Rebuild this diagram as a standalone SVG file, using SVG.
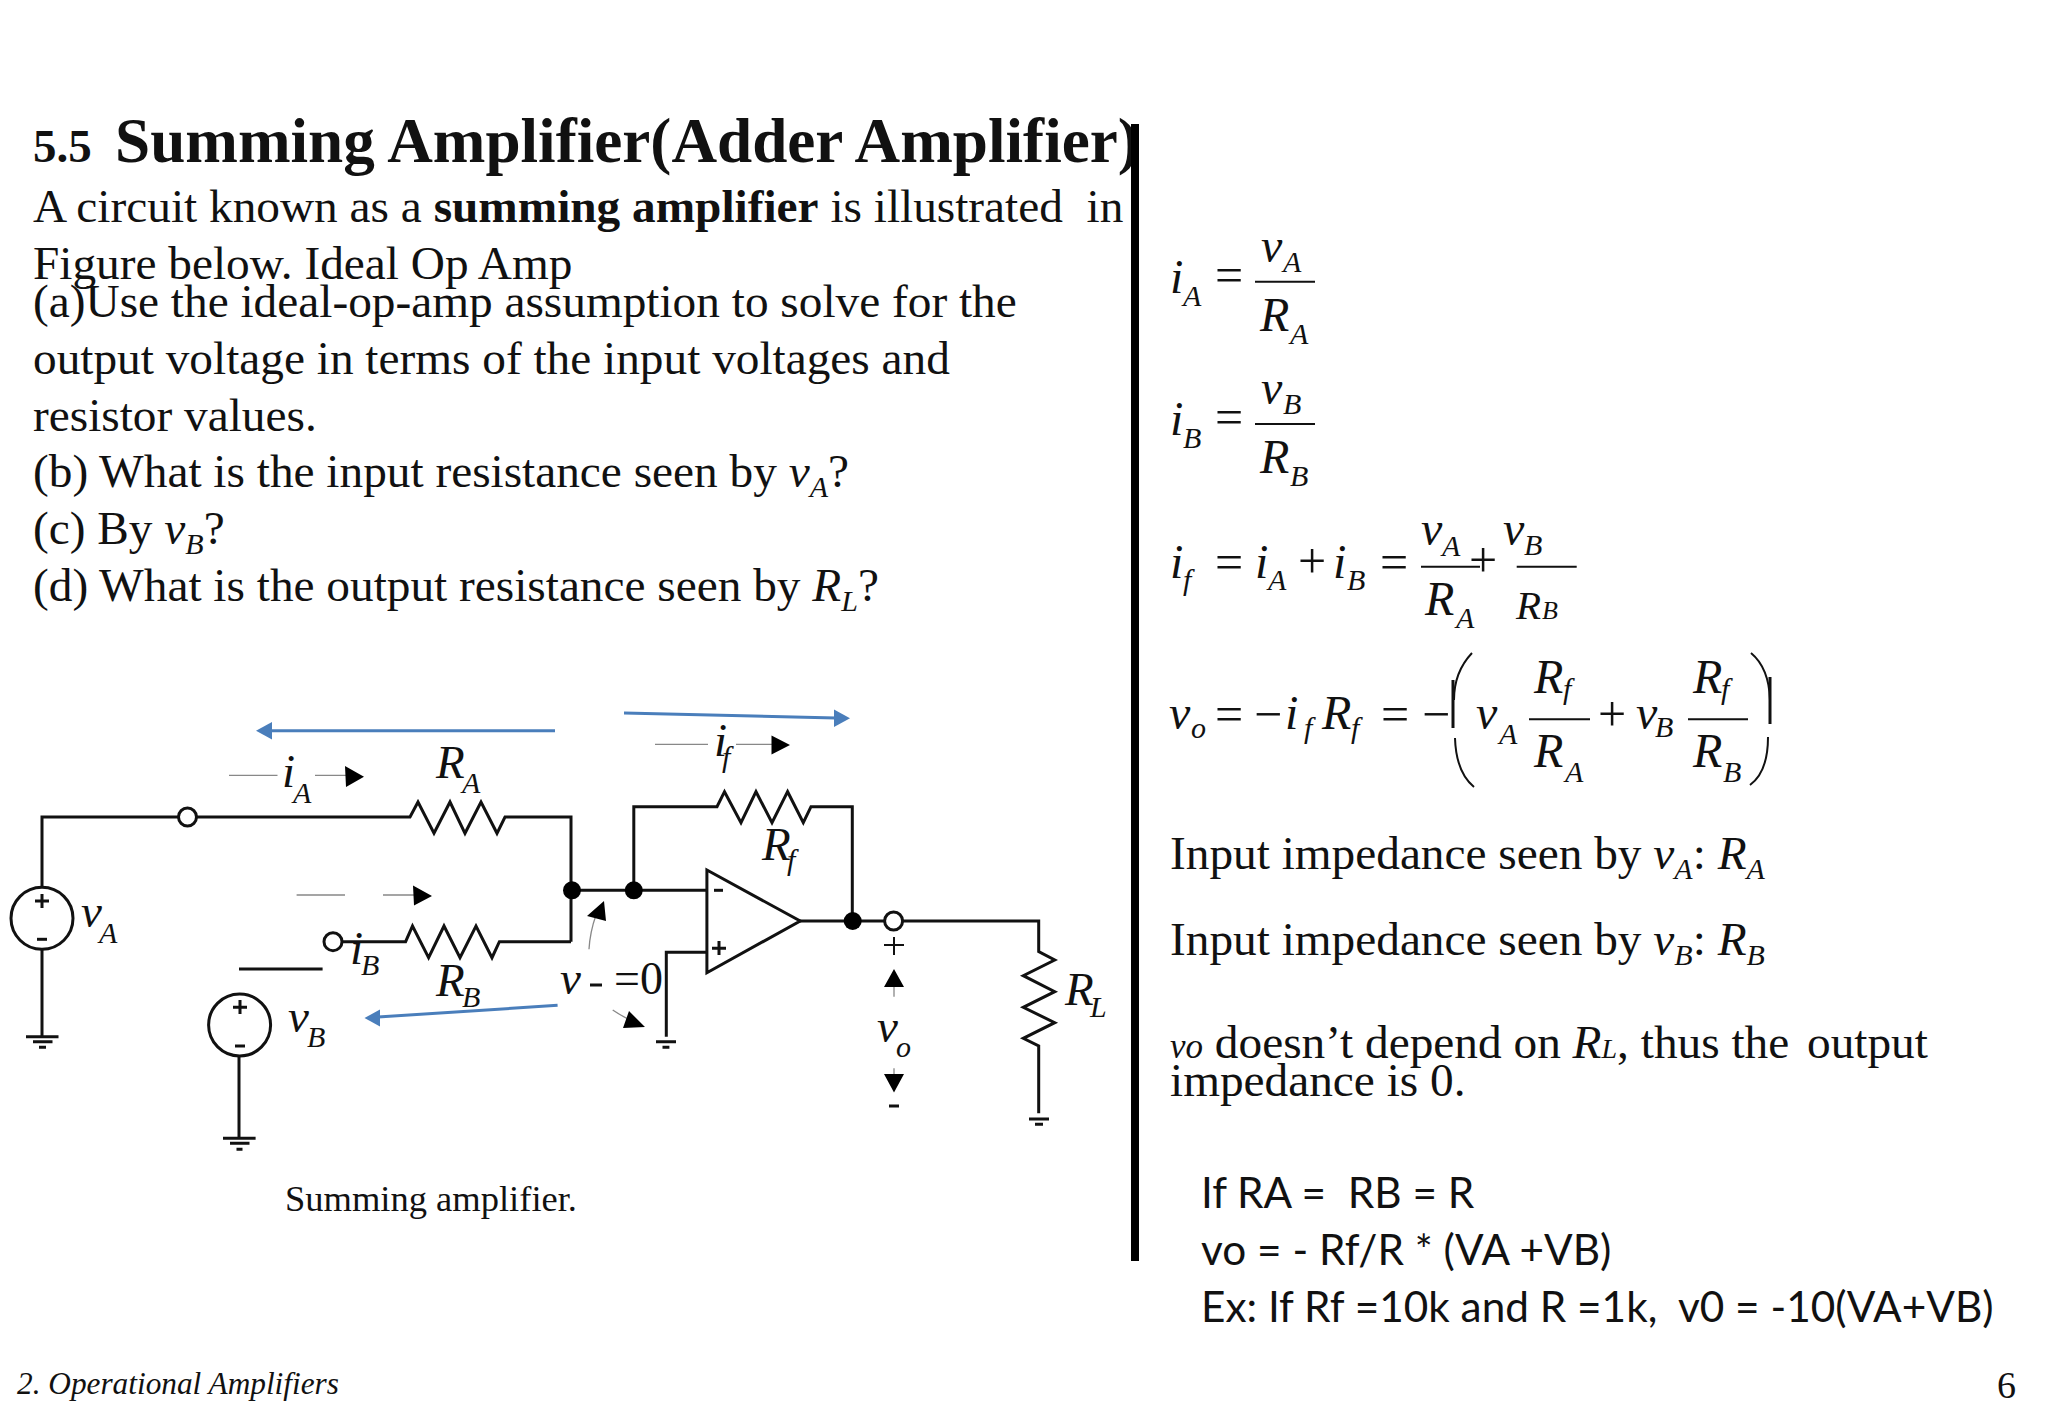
<svg xmlns="http://www.w3.org/2000/svg" width="2048" height="1416" viewBox="0 0 2048 1416">
<style>
text{font-family:"Liberation Serif","Times New Roman",serif;fill:#111;white-space:pre}
.b{font-size:47.3px}
.m{font-size:48px;font-style:italic}
.n{font-size:50px}
.s{font-size:30px;font-style:italic}
.c{font-size:47px;font-style:italic}
.cs{font-size:30px;font-style:italic}
.cal{font-family:Lato,"Open Sans",sans-serif;font-size:42.3px}
.w{fill:none;stroke:#111;stroke-width:3}
.g{fill:none;stroke:#888;stroke-width:1.3}
.f{fill:none;stroke:#111;stroke-width:2}
.blue{fill:none;stroke:#4a7ebb;stroke-width:3}
.bh{fill:#4a7ebb}
.ah{fill:#000}
.o{fill:#fff;stroke:#111;stroke-width:3}
.d{fill:#000}
.sub{font-style:italic;font-size:30px}
.it{font-style:italic}
</style>
<rect width="2048" height="1416" fill="#fff"/>
<g id="heading">
<text x="33" y="162" font-size="47" font-weight="bold">5.5</text>
<text x="115" y="162" font-size="63.2" font-weight="bold">Summing Amplifier(Adder Amplifier)</text>
</g>
<g id="problem-text">
<text class="b" x="33" y="222">A circuit known as a <tspan font-weight="bold">summing amplifier</tspan> is illustrated  in</text>
<text class="b" x="33" y="279">Figure below. Ideal Op Amp</text>
<text class="b" x="33" y="317">(a)Use the ideal-op-amp assumption to solve for the</text>
<text class="b" x="33" y="374">output voltage in terms of the input voltages and</text>
<text class="b" x="33" y="431">resistor values.</text>
<text class="b" x="33" y="487">(b) What is the input resistance seen by <tspan class="it">v</tspan><tspan class="sub" dy="10">A</tspan><tspan dy="-10">?</tspan></text>
<text class="b" x="33" y="544">(c) By <tspan class="it">v</tspan><tspan class="sub" dy="10">B</tspan><tspan dy="-10">?</tspan></text>
<text class="b" x="33" y="601">(d) What is the output resistance seen by <tspan class="it">R</tspan><tspan class="sub" dy="10">L</tspan><tspan dy="-10">?</tspan></text>
</g>
<rect id="divider" x="1131" y="124" width="8" height="1137" fill="#000"/>
<g id="connectors">
<path class="w" d="M42 887V817H178M197 817H410L418 802L434 833.300L450 802L465 833.300L481 802L497 833.300L505 817H571V941.700"/>
<path class="w" d="M342 941.700H405.600L412.500 926L428.600 957.700L444 926L460 957.700L476 926L492 957.700L499.400 941.700H571"/>
<path class="w" d="M572 890.300H707"/>
<path class="w" d="M633.800 890.300V806.700H717L724.500 791.700L741 822.700L756 791.700L772 822.700L787.600 791.700L803.300 822.700L811 806.700H852.300V921"/>
<path class="w" d="M800 921H884M903 921H1038.700V951.700L1054.700 960L1023.300 975.700L1054.700 991.700L1023.300 1007.300L1054.700 1022.700L1023.300 1038.300L1038.700 1046V1113.300"/>
<path class="w" d="M707 952.300H666.300V1036.700"/>
<path class="w" d="M42 949V1036.700"/>
<path class="w" d="M239 1056.700V1138.300"/>
<path class="w" d="M239 969H322.600"/>
</g>
<g id="source-va">
<circle class="o" cx="42" cy="918.300" r="31"/>
<path class="w" d="M35 901H49M42 894V908"/><path class="w" d="M37 939.300H47" stroke-width="4"/>
<path class="w" d="M26 1036.700H58.500M33 1041.700H52.500M39 1047.300H46"/>
<text class="c" x="81" y="927">v</text><text class="cs" x="99" y="943">A</text>
</g>
<g id="source-vb">
<circle class="o" cx="239.600" cy="1025" r="31"/>
<path class="w" d="M233 1007.300H247M240 1000V1014"/><path class="w" d="M235 1046H245" stroke-width="4"/>
<path class="w" d="M223 1138.300H255.600M230 1143.300H249.500M236.500 1149.300H242.500"/>
<text class="c" x="288" y="1032">v</text><text class="cs" x="307" y="1047">B</text>
</g>
<g id="terminals">
<circle class="o" cx="187.500" cy="817" r="9"/>
<circle class="o" cx="333" cy="941.700" r="9"/>
<circle class="o" cx="893.600" cy="921" r="9"/>
<circle class="d" cx="572" cy="890.300" r="9"/>
<circle class="d" cx="633.800" cy="890.300" r="9"/>
<circle class="d" cx="852.700" cy="921" r="9"/>
</g>
<g id="opamp">
<path class="w" fill="#fff" d="M706.900 870L800.200 921L706.900 972.700Z"/>
<path class="w" d="M714 890.300H723"/>
<path class="w" d="M712 948.300H726M719 941V955"/>
<path class="w" d="M656 1041.700H676M662.500 1047.300H669.400"/>
<path class="w" d="M1029 1119H1049M1035 1124.300H1043"/>
</g>
<g id="labels">
<text class="c" x="282" y="787">i</text><text class="cs" x="293" y="803">A</text>
<text class="c" x="436" y="778">R</text><text class="cs" x="462" y="793">A</text>
<text class="c" x="350" y="964">i</text><text class="cs" x="361" y="975">B</text>
<text class="c" x="436" y="996">R</text><text class="cs" x="462" y="1007">B</text>
<text class="c" x="714" y="756">i</text><text class="cs" x="722" y="767">f</text>
<text class="c" x="762" y="860">R</text><text class="cs" x="787" y="870">f</text>
<text class="c" x="1065" y="1005">R</text><text class="cs" x="1090" y="1017">L</text>
<text class="c" x="560" y="994">v</text>
<path class="w" d="M590 985H602" stroke-width="4"/>
<text font-size="46" x="614" y="994">=0</text>
<text class="c" x="877" y="1042">v</text><text class="cs" x="896" y="1057">o</text>
<path class="f" d="M884 945H904M894 937V955"/>
<path class="w" d="M889 1106H899"/>
<text font-size="36.500" x="285" y="1211">Summing amplifier.</text>
</g>
<g id="current-arrows">
<path class="g" d="M229 775.300H277.500M315 775.300H346M296.600 895H345M383 895H415M655 744.300H708M736 744.300H772M894 986V996.700M894 1068.300V1075M589 949.300Q590 932 596 915M612.700 1010Q620 1015 630 1020"/>
<path class="ah" d="M345 766L364 776.700L346 787ZM413 885.500L432 896L414 905.500ZM771.500 735.500L790 745L771.500 754.500ZM894 969L904 987H884ZM884 1074H904L894 1092.500ZM604 901L606 921L587 916ZM645 1027L623 1028L629 1011Z"/>
<path class="blue" d="M555 730.700H270"/><path class="bh" d="M256 730.700L272 722V739.400Z"/>
<path class="blue" d="M557.600 1005.300L378 1017"/><path class="bh" d="M364.500 1018L380 1009.500V1026.500Z"/>
<path class="blue" d="M624 713L836 718"/><path class="bh" d="M850 718.300L834 709.500V727Z"/>
</g>
<g id="equations">
<text class="m" x="1170" y="293">i</text><text class="s" x="1183" y="306">A</text><text class="n" x="1215" y="292">=</text>
<path class="f" d="M1255 281.700H1315"/>
<text class="m" x="1261" y="262">v</text><text class="s" x="1283" y="272">A</text>
<text class="m" x="1260" y="331">R</text><text class="s" x="1290" y="344">A</text>
<text class="m" x="1170" y="435">i</text><text class="s" x="1183" y="448">B</text><text class="n" x="1215" y="434">=</text>
<path class="f" d="M1255 424H1315"/>
<text class="m" x="1261" y="404">v</text><text class="s" x="1283" y="414">B</text>
<text class="m" x="1260" y="473">R</text><text class="s" x="1290" y="486">B</text>
<text class="m" x="1170" y="578">i</text><text class="s" x="1183" y="590">f</text><text class="n" x="1215" y="579">=</text>
<text class="m" x="1255" y="578">i</text><text class="s" x="1268" y="590">A</text>
<text class="n" x="1298" y="578">+</text>
<text class="m" x="1333" y="578">i</text><text class="s" x="1347" y="590">B</text><text class="n" x="1380" y="579">=</text>
<path class="f" d="M1421 566.700H1480M1516.700 566.700H1576.700"/>
<text class="m" x="1421" y="545">v</text><text class="s" x="1442" y="556">A</text>
<text class="m" x="1425" y="615">R</text><text class="s" x="1456" y="628">A</text>
<text class="n" x="1469" y="577">+</text>
<text class="m" x="1503" y="545">v</text><text class="s" x="1524" y="555">B</text>
<text class="m" x="1516" y="619" style="font-size:41px">R</text><text class="s" x="1542" y="619" style="font-size:26px">B</text>
<text class="m" x="1169" y="729">v</text><text class="s" x="1191" y="738">o</text><text class="n" x="1215" y="731">=</text>
<text class="n" x="1254" y="731">−</text><text class="m" x="1285" y="729">i</text><text class="s" x="1304" y="738">f</text>
<text class="m" x="1322" y="729">R</text><text class="s" x="1351" y="738">f</text><text class="n" x="1381" y="731">=</text><text class="n" x="1422" y="731">−</text>
<path class="f" d="M1472 653Q1454 672 1454 700M1455 738Q1456 772 1474 787"/><path class="w" d="M1453 680V728"/>
<path class="f" d="M1751 653Q1769 668 1770 700M1768 737Q1768 772 1750 785"/><path class="w" d="M1770 677V724"/>
<text class="m" x="1476" y="729">v</text><text class="s" x="1499" y="744">A</text>
<path class="f" d="M1529 719.300H1590M1688 719.300H1748"/>
<text class="m" x="1534" y="693">R</text><text class="s" x="1563" y="699">f</text>
<text class="m" x="1534" y="767">R</text><text class="s" x="1565" y="782">A</text>
<text class="n" x="1598" y="731">+</text>
<text class="m" x="1636" y="729">v</text><text class="s" x="1655" y="737">B</text>
<text class="m" x="1693" y="693">R</text><text class="s" x="1721" y="699">f</text>
<text class="m" x="1693" y="767">R</text><text class="s" x="1723" y="782">B</text>
</g>
<g id="notes">
<text class="b" x="1170" y="869">Input impedance seen by <tspan class="it">v</tspan><tspan class="sub" dy="10">A</tspan><tspan dy="-10">: </tspan><tspan class="it">R</tspan><tspan class="sub" dy="10">A</tspan></text>
<text class="b" x="1170" y="955">Input impedance seen by <tspan class="it">v</tspan><tspan class="sub" dy="10">B</tspan><tspan dy="-10">: </tspan><tspan class="it">R</tspan><tspan class="sub" dy="10">B</tspan></text>
<text class="b" x="1170" y="1058"><tspan class="it" font-size="35">vo</tspan> doesn’t depend on <tspan class="it">R</tspan><tspan class="it" font-size="28">L</tspan>, thus the <tspan dx="6">output</tspan></text>
<text class="b" x="1170" y="1096">impedance is 0.</text>
<text class="cal" x="1201" y="1208">If RA =  RB = R</text>
<text class="cal" x="1201" y="1265">vo = - Rf/R * (VA +VB)</text>
<text class="cal" x="1201" y="1322">Ex: If Rf =10k and R =1k,  v0 = -10(VA+VB)</text>
</g>
<g id="footer">
<text x="17" y="1394" font-size="31.300" font-style="italic">2. Operational Amplifiers</text>
<text x="1997" y="1398" font-size="38">6</text>
</g>
</svg>
